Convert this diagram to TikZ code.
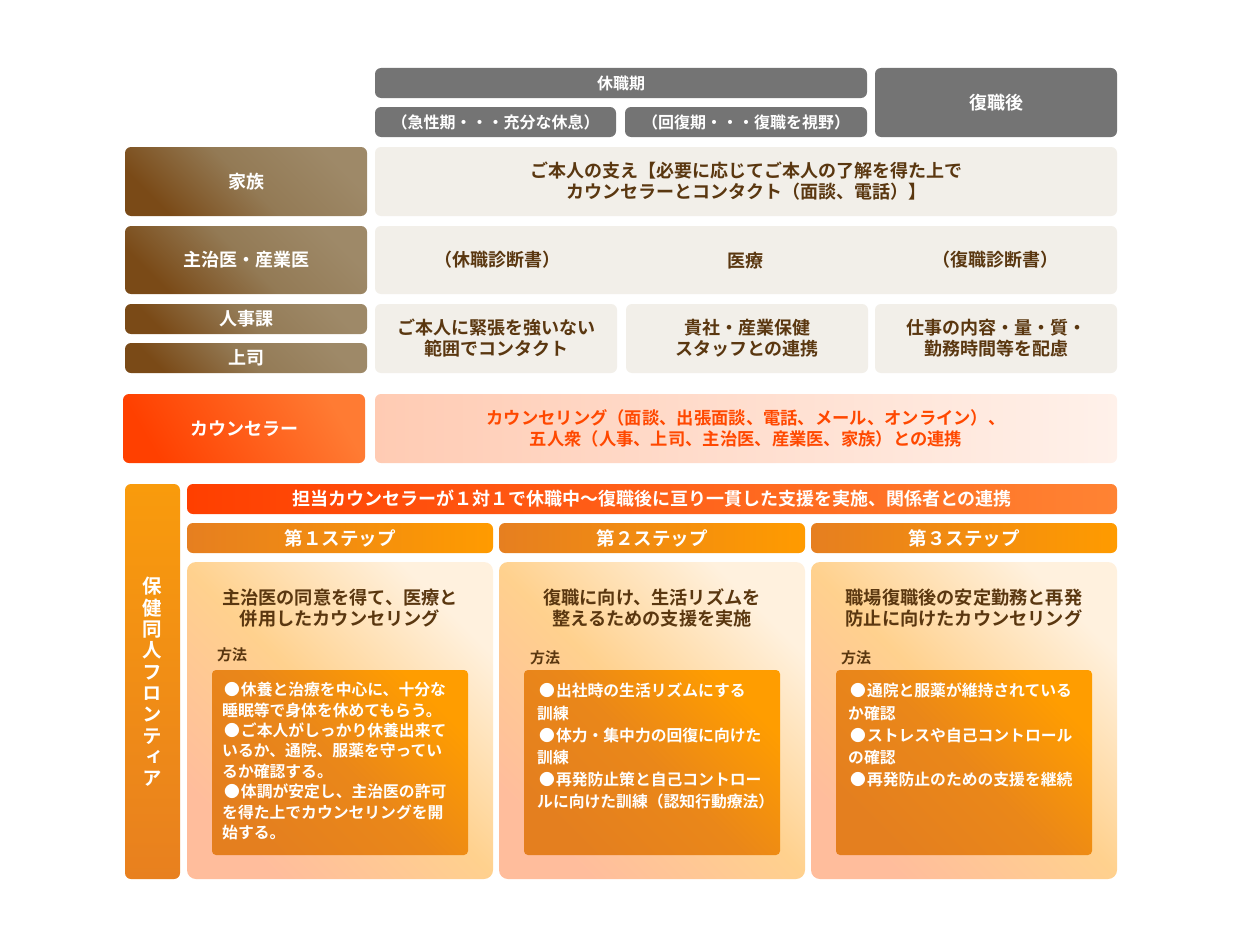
\documentclass[tikz,border=0pt]{standalone}
\usepackage{fontspec}
\setmainfont{Noto Sans CJK JP}[BoldFont=* Bold]
\newfontfamily\vertfont{Noto Sans CJK JP}[BoldFont=* Bold, RawFeature=+vert]
\definecolor{hdgray}{HTML}{747474}
\definecolor{brD}{HTML}{7A4A17}
\definecolor{brM}{HTML}{937A55}
\definecolor{brL}{HTML}{9E8968}
\definecolor{cellbg}{HTML}{F2EFE9}
\definecolor{txtbrown}{HTML}{5A3710}
\definecolor{cnsD}{HTML}{FF4000}
\definecolor{cnsL}{HTML}{FF7B33}
\definecolor{cnsC1}{HTML}{FFCBB3}
\definecolor{cnsC2}{HTML}{FFF1EA}
\definecolor{cnsText}{HTML}{FF4800}
\definecolor{vbarTop}{HTML}{F99B0C}
\definecolor{vbarBot}{HTML}{E8801F}
\definecolor{banL}{HTML}{FF3F00}
\definecolor{banR}{HTML}{FF8333}
\definecolor{stepL}{HTML}{E67F20}
\definecolor{stepR}{HTML}{FF9B00}
\definecolor{bodyBL}{HTML}{FFBD9C}
\definecolor{bodyM}{HTML}{FFD18E}
\definecolor{bodyTR}{HTML}{FFF1DE}
\definecolor{innerBL}{HTML}{E47F1F}
\definecolor{innerM}{HTML}{EA8719}
\definecolor{innerTR}{HTML}{FF9D00}
% name, x1, y1, x2, y2, style, text
\newcommand\bx[7]{\node[#6, anchor=north west, minimum width={#4-#2}, minimum height={#5-#3}] (#1) at (#2,#3) {#7};}
\newcommand\bul{\kern2pt●\kern1pt}
\begin{document}
\begin{tikzpicture}[x=1pt,y=-1pt,
  base/.style={rounded corners=6pt, inner sep=0pt, outer sep=0pt, align=center},
  f16/.style={font=\bfseries\fontsize{16}{19}\selectfont},
  f18/.style={font=\bfseries\fontsize{18}{21}\selectfont},
  grayhd/.style={base, fill=hdgray, text=white},
  brownlab/.style={base, bottom color=brD, top color=brL, middle color=brM, shading angle=-45, text=white, f18},
  cell/.style={base, fill=cellbg, text=txtbrown, f18},
  cnslab/.style={base, bottom color=cnsD, top color=cnsL, shading angle=-60, text=white, f18},
  cnscell/.style={base, left color=cnsC1, right color=cnsC2, text=cnsText, font=\bfseries\fontsize{17.3}{21.5}\selectfont},
  vbar/.style={base, top color=vbarTop, bottom color=vbarBot},
  banner/.style={base, left color=banL, right color=banR, text=white, f18},
  stephd/.style={base, left color=stepL, right color=stepR, text=white, font=\bfseries\fontsize{18.5}{21}\selectfont},
  body/.style={base, rounded corners=9pt, bottom color=bodyBL, top color=bodyTR, middle color=bodyM, shading angle=-45},
  inner/.style={base, rounded corners=4pt, bottom color=innerBL, top color=innerTR, middle color=innerM, shading angle=-45},
  ttl/.style={align=center, text=txtbrown, inner sep=0pt, font=\bfseries\fontsize{18.2}{20.5}\selectfont},
  meth/.style={anchor=west, text=txtbrown, inner sep=0pt, font=\bfseries\fontsize{15}{18}\selectfont},
  list/.style={anchor=north west, align=left, text=white, inner sep=0pt},
]
\useasboundingbox (0,0) rectangle (1240,950);
\fill[white] (0,0) rectangle (1240,950);

% header
\bx{kyushoku}{375}{68}{867}{98}{grayhd, f16}{休職期}
\bx{kyusei}{375}{107}{616}{137}{grayhd, f16}{（急性期・・・充分な休息）}
\bx{kaifuku}{625}{107}{867}{137}{grayhd, f16}{（回復期・・・復職を視野）}
\bx{fukugo}{875}{68}{1117}{137}{grayhd, f18}{復職後}

% family
\bx{kazoku}{125}{147}{367}{216}{brownlab}{家族}
\bx{kazokuC}{375}{147}{1117}{216}{cell}{ご本人の支え【必要に応じてご本人の了解を得た上で\\カウンセラーとコンタクト（面談、電話）】}

% doctors
\bx{ishi}{125}{226}{367}{294}{brownlab}{主治医・産業医}
\bx{ishiC}{375}{226}{1117}{294}{cell}{}
\node[text=txtbrown, f18, inner sep=0pt] (shindan1) at (497,260) {（休職診断書）};
\node[text=txtbrown, f18, inner sep=0pt] (iryo) at (745,261) {医療};
\node[text=txtbrown, f18, inner sep=0pt] (shindan2) at (995,260) {（復職診断書）};

% HR / boss
\bx{jinji}{125}{304}{367}{334}{brownlab}{人事課}
\bx{joushi}{125}{343}{367}{373}{brownlab}{上司}
\bx{c1}{375}{304}{617}{373}{cell}{ご本人に緊張を強いない\\範囲でコンタクト}
\bx{c2}{626}{304}{868}{373}{cell}{貴社・産業保健\\スタッフとの連携}
\bx{c3}{875}{304}{1117}{373}{cell}{仕事の内容・量・質・\\勤務時間等を配慮}

% counselor
\bx{cns}{123}{394}{365}{463}{cnslab}{カウンセラー}
\bx{cnsC}{375}{394}{1117}{463}{cnscell}{カウンセリング（面談、出張面談、電話、メール、オンライン）、\\五人衆（人事、上司、主治医、産業医、家族）との連携}

% lower part
\bx{front}{125}{484}{180}{879}{vbar}{}
\node[text=white, align=center, inner sep=0pt, font=\vertfont\bfseries\fontsize{19.5}{21.3}\selectfont] (frontT) at (152,682) {保\\健\\同\\人\\フ\\ロ\\ン\\テ\\ィ\\ア};
\bx{ban}{187}{484}{1117}{514}{banner}{担当カウンセラーが１対１で休職中～復職後に亘り一貫した支援を実施、関係者との連携}
\bx{s1}{187}{523}{493}{553}{stephd}{第１ステップ}
\bx{s2}{499}{523}{805}{553}{stephd}{第２ステップ}
\bx{s3}{811}{523}{1117}{553}{stephd}{第３ステップ}

\bx{b1}{187}{562}{493}{879}{body}{}
\bx{b2}{499}{562}{805}{879}{body}{}
\bx{b3}{811}{562}{1117}{879}{body}{}

\node[ttl] (t1) at (340,608) {主治医の同意を得て、医療と\\併用したカウンセリング};
\node[ttl] (t2) at (652,608) {復職に向け、生活リズムを\\整えるための支援を実施};
\node[ttl] (t3) at (964,608) {職場復職後の安定勤務と再発\\防止に向けたカウンセリング};

\node[meth] (m1) at (217,655) {方法};
\node[meth] (m2) at (530,658) {方法};
\node[meth] (m3) at (841,658) {方法};

\bx{i1}{212}{670}{468}{855}{inner}{}
\bx{i2}{524}{670}{780}{855}{inner}{}
\bx{i3}{836}{670}{1092}{855}{inner}{}

\node[list, font=\bfseries\fontsize{15.8}{20.4}\selectfont] (l1) at (222,682) {\bul 休養と治療を中心に、十分な\\睡眠等で身体を休めてもらう。\\\bul ご本人がしっかり休養出来て\\いるか、通院、服薬を守ってい\\るか確認する。\\\bul 体調が安定し、主治医の許可\\を得た上でカウンセリングを開\\始する。};
\node[list, font=\bfseries\fontsize{15.8}{22.2}\selectfont] (l2) at (537,683) {\bul 出社時の生活リズムにする\\訓練\\\bul 体力・集中力の回復に向けた\\訓練\\\bul 再発防止策と自己コントロー\\ルに向けた訓練（認知行動療法）};
\node[list, font=\bfseries\fontsize{15.8}{22.2}\selectfont] (l3) at (848,683) {\bul 通院と服薬が維持されている\\か確認\\\bul ストレスや自己コントロール\\の確認\\\bul 再発防止のための支援を継続};
\end{tikzpicture}
\end{document}
